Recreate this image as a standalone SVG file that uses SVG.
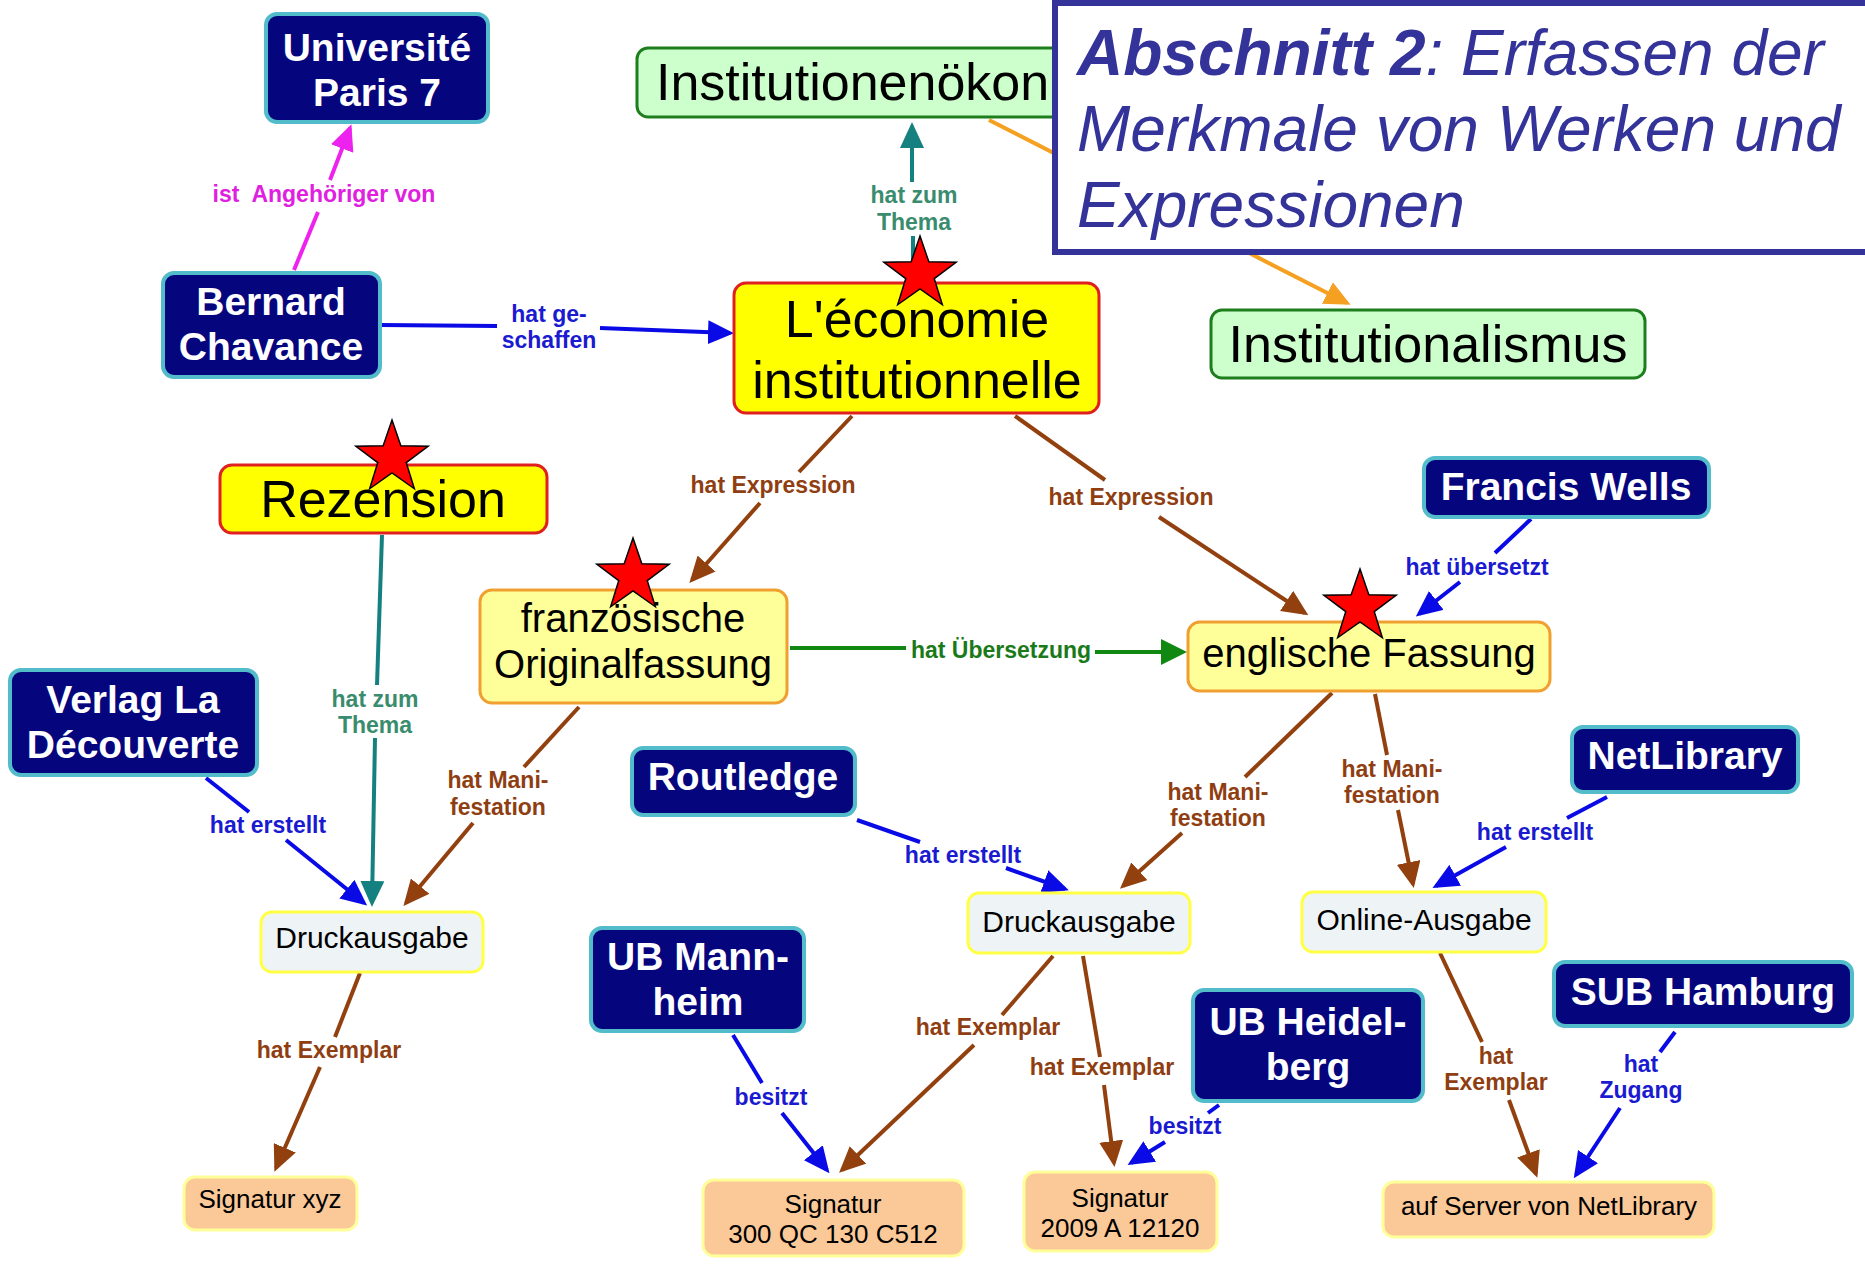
<svg xmlns="http://www.w3.org/2000/svg" xmlns:xlink="http://www.w3.org/1999/xlink" width="1865" height="1267" viewBox="0 0 1865 1267">
<style>
  text { font-family: "Liberation Sans", Arial, sans-serif; }
  .ln { fill: none; stroke-width: 4; stroke-linecap: butt; }
  .brown { stroke: #93400f; }
  .blue { stroke: #0a0ae6; }
  .teal { stroke: #158080; }
  .mag { stroke: #ee22ee; }
  .green { stroke: #118811; }
  .orange { stroke: #f5a020; }
  .lbl { font-size: 23px; font-weight: bold; text-anchor: middle; }
  .lb-brown { fill: #8f3e12; }
  .lb-blue { fill: #1a1ad0; }
  .lb-teal { fill: #3a8c6e; }
  .lb-mag { fill: #e020e0; white-space: pre; }
  .lb-green { fill: #1a7a1a; }
  .navy rect { fill: #05057e; stroke: #52bccb; stroke-width: 4; }
  .navy text { fill: #ffffff; font-size: 39px; font-weight: bold; text-anchor: middle; }
  .work rect { fill: #ffff00; stroke: #e02020; stroke-width: 3; }
  .work text { fill: #000; font-size: 52px; text-anchor: middle; }
  .expr rect { fill: #ffff99; stroke: #f0a030; stroke-width: 3; }
  .expr text { fill: #000; font-size: 40px; text-anchor: middle; }
  .topic rect { fill: #ccffcc; stroke: #1e7e1e; stroke-width: 3; }
  .topic text { fill: #000; font-size: 52px; }
  .manif rect { fill: #eef3f5; stroke: #ffff44; stroke-width: 3; }
  .manif text { fill: #000; font-size: 30px; text-anchor: middle; }
  .item rect { fill: #fbc898; stroke: #ffff99; stroke-width: 3; }
  .item text { fill: #000; font-size: 26px; text-anchor: middle; }
  .star { fill: #ff0000; stroke: #000; stroke-width: 1.5; }
  .title { font-size: 64px; font-style: italic; fill: #333399; }
</style>
<defs>
  <marker id="a-brown" markerUnits="userSpaceOnUse" markerWidth="26" markerHeight="24" refX="22" refY="12" orient="auto"><path d="M0,0 L26,12 L0,24 z" fill="#93400f"/></marker>
  <marker id="a-blue" markerUnits="userSpaceOnUse" markerWidth="26" markerHeight="24" refX="22" refY="12" orient="auto"><path d="M0,0 L26,12 L0,24 z" fill="#0a0ae6"/></marker>
  <marker id="a-teal" markerUnits="userSpaceOnUse" markerWidth="26" markerHeight="24" refX="22" refY="12" orient="auto"><path d="M0,0 L26,12 L0,24 z" fill="#158080"/></marker>
  <marker id="a-mag" markerUnits="userSpaceOnUse" markerWidth="26" markerHeight="24" refX="22" refY="12" orient="auto"><path d="M0,0 L26,12 L0,24 z" fill="#ee22ee"/></marker>
  <marker id="a-green" markerUnits="userSpaceOnUse" markerWidth="26" markerHeight="26" refX="22" refY="13" orient="auto"><path d="M0,0 L26,13 L0,26 z" fill="#118811"/></marker>
  <marker id="a-orange" markerUnits="userSpaceOnUse" markerWidth="26" markerHeight="24" refX="22" refY="12" orient="auto"><path d="M0,0 L26,12 L0,24 z" fill="#f5a020"/></marker>
  <polygon id="star" points="0,-38 8.82,-12.14 36.14,-11.74 14.27,4.64 22.34,30.74 0,15 -22.34,30.74 -14.27,4.64 -36.14,-11.74 -8.82,-12.14"/>
</defs>
<rect width="1865" height="1267" fill="#ffffff"/>

<g id="connectors">
  <line class="ln orange" x1="989" y1="120" x2="1347" y2="303" marker-end="url(#a-orange)"/>
  <line class="ln mag" x1="294" y1="270" x2="318" y2="212"/>
  <line class="ln mag" x1="330" y1="180" x2="350" y2="128" marker-end="url(#a-mag)"/>
  <text class="lbl lb-mag" x="324" y="202">ist  Angehöriger von</text>
  <line class="ln blue" x1="381" y1="325" x2="497" y2="326"/>
  <line class="ln blue" x1="600" y1="328" x2="730" y2="333" marker-end="url(#a-blue)"/>
  <text class="lbl lb-blue" x="549" y="322">hat ge-</text>
  <text class="lbl lb-blue" x="549" y="348">schaffen</text>
  <line class="ln teal" x1="913" y1="283" x2="913" y2="236"/>
  <line class="ln teal" x1="912" y1="182" x2="912" y2="126" marker-end="url(#a-teal)"/>
  <text class="lbl lb-teal" x="914" y="203">hat zum</text>
  <text class="lbl lb-teal" x="914" y="230">Thema</text>
  <line class="ln brown" x1="852" y1="416" x2="799" y2="472"/>
  <line class="ln brown" x1="760" y1="503" x2="692" y2="580" marker-end="url(#a-brown)"/>
  <text class="lbl lb-brown" x="773" y="493">hat Expression</text>
  <line class="ln brown" x1="1015" y1="416" x2="1105" y2="480"/>
  <line class="ln brown" x1="1159" y1="517" x2="1305" y2="613" marker-end="url(#a-brown)"/>
  <text class="lbl lb-brown" x="1131" y="505">hat Expression</text>
  <line class="ln green" x1="790" y1="648" x2="906" y2="648"/>
  <line class="ln green" x1="1095" y1="652" x2="1183" y2="652" marker-end="url(#a-green)"/>
  <text class="lbl lb-green" x="1001" y="658">hat Übersetzung</text>
  <line class="ln teal" x1="382" y1="535" x2="377" y2="685"/>
  <line class="ln teal" x1="375" y1="738" x2="372" y2="903" marker-end="url(#a-teal)"/>
  <text class="lbl lb-teal" x="375" y="707">hat zum</text>
  <text class="lbl lb-teal" x="375" y="733">Thema</text>
  <line class="ln blue" x1="206" y1="778" x2="249" y2="812"/>
  <line class="ln blue" x1="286" y1="840" x2="364" y2="903" marker-end="url(#a-blue)"/>
  <text class="lbl lb-blue" x="268" y="833">hat erstellt</text>
  <line class="ln brown" x1="579" y1="707" x2="524" y2="767"/>
  <line class="ln brown" x1="473" y1="823" x2="406" y2="903" marker-end="url(#a-brown)"/>
  <text class="lbl lb-brown" x="498" y="788">hat Mani-</text>
  <text class="lbl lb-brown" x="498" y="815">festation</text>
  <line class="ln brown" x1="360" y1="973" x2="335" y2="1037"/>
  <line class="ln brown" x1="320" y1="1067" x2="276" y2="1168" marker-end="url(#a-brown)"/>
  <text class="lbl lb-brown" x="329" y="1058">hat Exemplar</text>
  <line class="ln blue" x1="1531" y1="519" x2="1495" y2="553"/>
  <line class="ln blue" x1="1460" y1="582" x2="1419" y2="614" marker-end="url(#a-blue)"/>
  <text class="lbl lb-blue" x="1477" y="575">hat übersetzt</text>
  <line class="ln brown" x1="1332" y1="693" x2="1245" y2="777"/>
  <line class="ln brown" x1="1182" y1="833" x2="1123" y2="886" marker-end="url(#a-brown)"/>
  <text class="lbl lb-brown" x="1218" y="800">hat Mani-</text>
  <text class="lbl lb-brown" x="1218" y="826">festation</text>
  <line class="ln brown" x1="1375" y1="694" x2="1387" y2="755"/>
  <line class="ln brown" x1="1398" y1="810" x2="1413" y2="884" marker-end="url(#a-brown)"/>
  <text class="lbl lb-brown" x="1392" y="777">hat Mani-</text>
  <text class="lbl lb-brown" x="1392" y="803">festation</text>
  <line class="ln blue" x1="1607" y1="797" x2="1567" y2="818"/>
  <line class="ln blue" x1="1506" y1="847" x2="1436" y2="886" marker-end="url(#a-blue)"/>
  <text class="lbl lb-blue" x="1535" y="840">hat erstellt</text>
  <line class="ln blue" x1="857" y1="820" x2="920" y2="842"/>
  <line class="ln blue" x1="1006" y1="868" x2="1065" y2="889" marker-end="url(#a-blue)"/>
  <text class="lbl lb-blue" x="963" y="863">hat erstellt</text>
  <line class="ln blue" x1="733" y1="1035" x2="762" y2="1083"/>
  <line class="ln blue" x1="782" y1="1113" x2="827" y2="1170" marker-end="url(#a-blue)"/>
  <text class="lbl lb-blue" x="771" y="1105">besitzt</text>
  <line class="ln brown" x1="1053" y1="956" x2="1002" y2="1015"/>
  <line class="ln brown" x1="974" y1="1045" x2="842" y2="1170" marker-end="url(#a-brown)"/>
  <text class="lbl lb-brown" x="988" y="1035">hat Exemplar</text>
  <line class="ln brown" x1="1083" y1="956" x2="1100" y2="1057"/>
  <line class="ln brown" x1="1104" y1="1085" x2="1114" y2="1163" marker-end="url(#a-brown)"/>
  <text class="lbl lb-brown" x="1102" y="1075">hat Exemplar</text>
  <line class="ln blue" x1="1219" y1="1105" x2="1208" y2="1113"/>
  <line class="ln blue" x1="1165" y1="1142" x2="1131" y2="1163" marker-end="url(#a-blue)"/>
  <text class="lbl lb-blue" x="1185" y="1134">besitzt</text>
  <line class="ln brown" x1="1440" y1="953" x2="1482" y2="1042"/>
  <line class="ln brown" x1="1509" y1="1100" x2="1536" y2="1174" marker-end="url(#a-brown)"/>
  <text class="lbl lb-brown" x="1496" y="1064">hat</text>
  <text class="lbl lb-brown" x="1496" y="1090">Exemplar</text>
  <line class="ln blue" x1="1675" y1="1032" x2="1660" y2="1052"/>
  <line class="ln blue" x1="1620" y1="1108" x2="1576" y2="1175" marker-end="url(#a-blue)"/>
  <text class="lbl lb-blue" x="1641" y="1072">hat</text>
  <text class="lbl lb-blue" x="1641" y="1098">Zugang</text>
</g>

<g id="n-institutionenoekonomie" class="topic">
  <rect x="637" y="48" width="500" height="69" rx="11"/>
  <text x="656" y="100">Institutionenökon</text>
</g>
<g id="n-institutionalismus" class="topic">
  <rect x="1211" y="310" width="434" height="68" rx="11"/>
  <text x="1428" y="362" text-anchor="middle">Institutionalismus</text>
</g>
<g id="n-universite" class="navy">
  <rect x="266" y="14" width="222" height="108" rx="11"/>
  <text x="377" y="61">Université</text>
  <text x="377" y="106">Paris 7</text>
</g>
<g id="n-bernard" class="navy">
  <rect x="163" y="273" width="217" height="104" rx="11"/>
  <text x="271" y="315">Bernard</text>
  <text x="271" y="360">Chavance</text>
</g>
<g id="n-economie" class="work">
  <rect x="734" y="283" width="365" height="130" rx="12"/>
  <text x="917" y="337">L'économie</text>
  <text x="917" y="398">institutionnelle</text>
</g>
<g id="n-rezension" class="work">
  <rect x="220" y="465" width="327" height="68" rx="12"/>
  <text x="383" y="517">Rezension</text>
</g>
<g id="n-franzoesisch" class="expr">
  <rect x="480" y="590" width="307" height="113" rx="12"/>
  <text x="633" y="632">französische</text>
  <text x="633" y="678">Originalfassung</text>
</g>
<g id="n-englisch" class="expr">
  <rect x="1188" y="622" width="362" height="69" rx="12"/>
  <text x="1369" y="667">englische Fassung</text>
</g>
<g id="n-francis" class="navy">
  <rect x="1424" y="458" width="285" height="59" rx="11"/>
  <text x="1566" y="500">Francis Wells</text>
</g>
<g id="n-verlag" class="navy">
  <rect x="10" y="670" width="247" height="105" rx="11"/>
  <text x="133" y="713">Verlag La</text>
  <text x="133" y="758">Découverte</text>
</g>
<g id="n-netlibrary" class="navy">
  <rect x="1572" y="727" width="226" height="65" rx="11"/>
  <text x="1685" y="769">NetLibrary</text>
</g>
<g id="n-routledge" class="navy">
  <rect x="632" y="748" width="223" height="67" rx="11"/>
  <text x="743" y="790">Routledge</text>
</g>
<g id="n-druck-links" class="manif">
  <rect x="261" y="912" width="222" height="60" rx="11"/>
  <text x="372" y="948">Druckausgabe</text>
</g>
<g id="n-druck-mitte" class="manif">
  <rect x="968" y="893" width="222" height="60" rx="11"/>
  <text x="1079" y="932">Druckausgabe</text>
</g>
<g id="n-online" class="manif">
  <rect x="1302" y="892" width="244" height="60" rx="11"/>
  <text x="1424" y="930">Online-Ausgabe</text>
</g>
<g id="n-mannheim" class="navy">
  <rect x="591" y="928" width="213" height="103" rx="11"/>
  <text x="698" y="970">UB Mann-</text>
  <text x="698" y="1015">heim</text>
</g>
<g id="n-heidelberg" class="navy">
  <rect x="1193" y="990" width="230" height="111" rx="11"/>
  <text x="1308" y="1035">UB Heidel-</text>
  <text x="1308" y="1080">berg</text>
</g>
<g id="n-hamburg" class="navy">
  <rect x="1554" y="962" width="298" height="64" rx="11"/>
  <text x="1703" y="1005">SUB Hamburg</text>
</g>
<g id="n-sig-xyz" class="item">
  <rect x="184" y="1177" width="173" height="53" rx="11"/>
  <text x="270" y="1208">Signatur xyz</text>
</g>
<g id="n-sig-300" class="item">
  <rect x="703" y="1180" width="261" height="76" rx="11"/>
  <text x="833" y="1213">Signatur</text>
  <text x="833" y="1243">300 QC 130 C512</text>
</g>
<g id="n-sig-2009" class="item">
  <rect x="1024" y="1172" width="193" height="79" rx="11"/>
  <text x="1120" y="1207">Signatur</text>
  <text x="1120" y="1237">2009 A 12120</text>
</g>
<g id="n-server" class="item">
  <rect x="1383" y="1182" width="331" height="55" rx="11"/>
  <text x="1549" y="1215">auf Server von NetLibrary</text>
</g>

<g id="stars">
  <use xlink:href="#star" href="#star" class="star" x="920" y="274"/>
  <use xlink:href="#star" href="#star" class="star" x="392" y="458"/>
  <use xlink:href="#star" href="#star" class="star" x="633" y="576"/>
  <use xlink:href="#star" href="#star" class="star" x="1360" y="607"/>
</g>

<g id="title">
  <rect x="1055" y="3" width="900" height="249" fill="#ffffff" stroke="#333399" stroke-width="6"/>
  <text class="title" x="1077" y="75"><tspan font-weight="bold">Abschnitt 2</tspan>: Erfassen der</text>
  <text class="title" x="1077" y="151">Merkmale von Werken und</text>
  <text class="title" x="1077" y="227">Expressionen</text>
</g>
</svg>
